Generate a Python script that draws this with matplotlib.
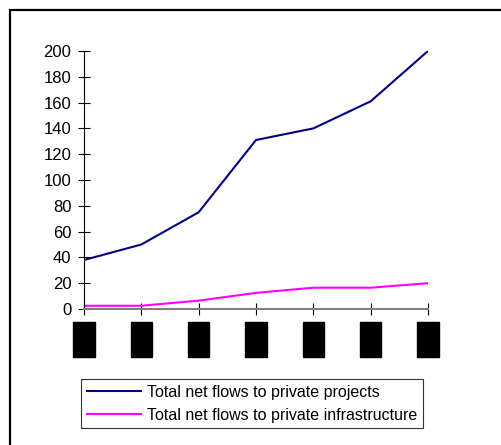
import matplotlib.pyplot as plt
from matplotlib.patches import Rectangle

# categories (labels are blacked out in the source)
years = ['1990', '1991', '1992', '1993', '1994', '1995', '1996']
private_projects = [38, 50, 75, 131, 140, 161, 200]
private_infra = [2.5, 2.5, 6.5, 12.5, 16.5, 16.5, 20]
yticks = list(range(0, 201, 20))

plt.rcParams['font.family'] = ['Liberation Sans', 'DejaVu Sans']

W, H = 501, 445
fig = plt.figure(figsize=(W / 100, H / 100), dpi=100)

# outer frame, runs off the right and bottom edge
fig.patches.append(Rectangle((10 / W, -0.1), 1.2, 1 - 10 / H + 0.1,
                             transform=fig.transFigure, fill=False,
                             edgecolor='black', linewidth=1.6))

ax = fig.add_axes([84 / W, (H - 309) / H, (428 - 84) / W, (309 - 51) / H])
x = range(len(years))
ax.plot(x, private_projects, color='#000080', lw=1.5,
        label='Total net flows to private projects')
ax.plot(x, private_infra, color='#FF00FF', lw=1.5,
        label='Total net flows to private infrastructure')

ax.set_xlim(0, len(years) - 1)
ax.set_ylim(0, 200)
ax.set_yticks(yticks)
ax.set_xticks(list(x))
ax.set_xticklabels(years, color='black', rotation=90, va='top')
for lab in ax.get_xticklabels():
    lab.set_bbox(dict(facecolor='black', edgecolor='black', pad=4))

for s in ('top', 'right'):
    ax.spines[s].set_visible(False)
ax.spines['left'].set_color('black')
ax.spines['bottom'].set_color('#808080')
ax.spines['bottom'].set_linewidth(1.5)
ax.tick_params(axis='y', direction='inout', length=8, width=0.8,
               labelsize=12, pad=5)
ax.tick_params(axis='x', direction='inout', length=9, width=0.8,
               colors='black', labelsize=8.5, pad=8)

leg = ax.legend(loc='upper left', bbox_to_anchor=(81 / W, (H - 379) / H),
                bbox_transform=fig.transFigure, fontsize=11.5,
                frameon=True, fancybox=False, borderaxespad=0,
                handlelength=3.4, handletextpad=0.4, borderpad=0.35,
                labelspacing=0.5)
leg.get_frame().set_edgecolor('black')
leg.get_frame().set_linewidth(0.8)

fig.savefig('out.png', dpi=100)
